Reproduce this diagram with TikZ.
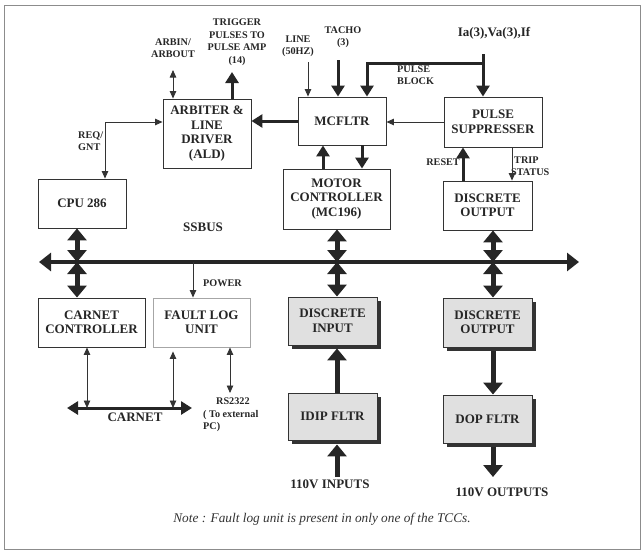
\documentclass[tikz,border=0pt]{standalone}
\usepackage{fontspec}
\setmainfont{Liberation Serif}
\usetikzlibrary{arrows.meta,shadows,calc}
\newcommand\bxfont{\fontsize{13}{14.5}\selectfont\bfseries}
\newcommand\smfont{\fontsize{10.2}{12.5}\selectfont\bfseries}
\begin{document}
\begin{tikzpicture}[x=1pt,y=-1pt,
  box/.style={draw=black!80, line width=0.9pt, inner sep=0pt, align=center, font=\bxfont, text=black!85, fill=white},
  shbox/.style={box, fill=black!12, drop shadow={shadow xshift=4pt, shadow yshift=-4pt, fill=black!80, opacity=1}},
  lbl/.style={inner sep=0pt, align=center, font=\smfont, text=black!85},
  biglbl/.style={inner sep=0pt, align=center, font=\bxfont, text=black!85},
  thinarr/.style={draw=black!80, line width=0.8pt, -{Triangle[width=6.5pt,length=7.5pt]}},
  midarr/.style={draw=black!85, line width=3pt, -{Triangle[width=13pt,length=11pt]}},
  bigarr/.style={draw=black!85, line width=5pt, -{Triangle[width=19pt,length=12pt]}},
  busline/.style={draw=black!85, line width=4.5pt, {Triangle[width=18pt,length=12pt]}-{Triangle[width=18pt,length=12pt]}}
]
\useasboundingbox (0,0) rectangle (643,552);
\draw[black!45, line width=1pt] (4,5) rectangle (640,549);

% boxes
\node[box, minimum width=88pt, minimum height=69pt] (ald) at (207,133.5) {ARBITER \&\\LINE\\DRIVER\\(ALD)};
\node[box, minimum width=88pt, minimum height=49pt] (cpu) at (82,203.5) {CPU 286};
\node[box, minimum width=88pt, minimum height=48pt] (mcf) at (342,121) {MCFLTR};
\node[box, minimum width=98pt, minimum height=50pt] (ps) at (493,122) {PULSE\\SUPPRESSER};
\node[box, minimum width=107pt, minimum height=60pt] (mc) at (336.5,199) {MOTOR\\CONTROLLER\\(MC196)};
\node[box, minimum width=89pt, minimum height=49pt] (dot) at (487.5,205.5) {DISCRETE\\OUTPUT};
\node[box, minimum width=107pt, minimum height=49pt] (cc) at (91.5,322.5) {CARNET\\CONTROLLER};
\node[box, draw=black!35, minimum width=97pt, minimum height=49pt] (flu) at (201.5,322.5) {FAULT LOG\\UNIT};
\node[shbox, minimum width=89pt, minimum height=48pt] (di) at (332.5,321) {DISCRETE\\INPUT};
\node[shbox, minimum width=89pt, minimum height=47pt] (idip) at (332.5,416.5) {IDIP FLTR};
\node[shbox, minimum width=89pt, minimum height=49pt] (dol) at (487.5,322.5) {DISCRETE\\OUTPUT};
\node[shbox, minimum width=89pt, minimum height=48pt] (dop) at (487.5,419) {DOP FLTR};

% labels
\node[lbl] (arbl) at (173,48) {ARBIN/\\ARBOUT};
\node[lbl] (trgl) at (237,42) {TRIGGER\\PULSES TO\\PULSE AMP\\(14)};
\node[lbl] (linel) at (298,46) {LINE\\(50HZ)};
\node[lbl] (tachl) at (343,37) {TACHO\\(3)};
\node[biglbl] (ial) at (494,33) {Ia(3),Va(3),If};
\node[lbl, anchor=west, align=left] (pbl) at (397,75) {PULSE\\BLOCK};
\node[lbl, anchor=west, align=left] (rql) at (78,141) {REQ/\\GNT};
\node[biglbl] (ssl) at (203,227) {SSBUS};
\node[lbl, anchor=east] (rstl) at (460,162) {RESET};
\node[lbl, anchor=west, align=left] (tripl) at (511,166) {\hspace*{3pt}TRIP\\STATUS};
\node[lbl, anchor=west] (pwl) at (203,283) {POWER};
\node[biglbl] (cnl) at (135,417) {CARNET};
\node[lbl, anchor=north west, align=left] (rsl) at (203,398) {\hspace*{13pt}RS2322\\( To external\\PC)};
\node[biglbl] (inl) at (330,484) {110V INPUTS};
\node[biglbl] (outl) at (502,492) {110V OUTPUTS};
\node[inner sep=0pt, font=\fontsize{13.3}{15}\selectfont\itshape, text=black!80] (note) at (322,519) {Note : Fault log unit is present in only one of the TCCs.};

% bus
\coordinate (busL) at (39,262);
\coordinate (busR) at (579,262);
\draw[busline] (busL) -- (busR);
\coordinate (t1) at (77,262);
\coordinate (t2) at (337,262);
\coordinate (t3) at (493,262);
\draw[bigarr, {Triangle[width=19pt,length=12pt]}-{Triangle[width=19pt,length=12pt]}] (cpu.south -| t1) -- (t1);
\draw[bigarr, {Triangle[width=19pt,length=12pt]}-{Triangle[width=19pt,length=12pt]}] (t1) -- (cc.north -| t1);
\draw[bigarr, {Triangle[width=19pt,length=12pt]}-{Triangle[width=19pt,length=12pt]}] (mc.south -| t2) -- (t2);
\draw[bigarr, {Triangle[width=19pt,length=12pt]}-{Triangle[width=19pt,length=12pt]}] (t2) -- (di.north -| t2);
\draw[bigarr, {Triangle[width=19pt,length=12pt]}-{Triangle[width=19pt,length=12pt]}] (dot.south -| t3) -- (t3);
\draw[bigarr, {Triangle[width=19pt,length=12pt]}-{Triangle[width=19pt,length=12pt]}] (t3) -- (dol.north -| t3);

% top inputs
\coordinate (arb) at (173,70);
\draw[thinarr, {Triangle[width=6.5pt,length=7.5pt]}-{Triangle[width=6.5pt,length=7.5pt]}] (arb) -- (arb |- ald.north);
\coordinate (trg) at (232,72);
\draw[midarr] (trg |- ald.north) -- (trg);
\coordinate (lin) at (308,62);
\draw[thinarr] (lin) -- (lin |- mcf.north);
\coordinate (tac) at (338,60);
\draw[midarr] (tac) -- (tac |- mcf.north);
\coordinate (ia) at (483,54);
\coordinate (pbc) at (483,63);
\coordinate (pbk) at (367,63);
\draw[midarr] (ia) -- (ia |- ps.north);
\draw[midarr, line join=miter] (pbc) -- (pbk) -- (pbk |- mcf.north);

% horizontal links
\draw[midarr] (mcf.west) -- (mcf.west -| ald.east);
\draw[thinarr] (ps.west) -- (ps.west -| mcf.east);
\coordinate (rq) at (105,122);
\draw[thinarr, {Triangle[width=6.5pt,length=7.5pt]}-{Triangle[width=6.5pt,length=7.5pt]}] (cpu.north -| rq) -- (rq) -- (rq -| ald.west);

% MC <-> MCFLTR
\coordinate (m1) at (323,150);
\coordinate (m2) at (362,150);
\draw[midarr] (mc.north -| m1) -- (mcf.south -| m1);
\draw[midarr] (mcf.south -| m2) -- (mc.north -| m2);

% PS <-> DO
\coordinate (r1) at (463,160);
\coordinate (r2) at (512,160);
\draw[midarr] (dot.north -| r1) -- (ps.south -| r1);
\draw[thinarr] (ps.south -| r2) -- (dot.north -| r2);

% power
\coordinate (pw) at (193,262);
\draw[thinarr] (pw) -- (pw |- flu.north);

% carnet
\coordinate (cnL) at (67,408);
\coordinate (cnR) at (192,408);
\draw[draw=black!85, line width=3pt, {Triangle[width=13pt,length=11pt]}-{Triangle[width=13pt,length=11pt]}] (cnL) -- (cnR);
\coordinate (c1) at (87,408);
\coordinate (c2) at (173,408);
\coordinate (rs) at (230,393);
\draw[thinarr, {Triangle[width=6.5pt,length=7.5pt]}-{Triangle[width=6.5pt,length=7.5pt]}] (cc.south -| c1) -- (c1);
\draw[thinarr, shorten <=4pt, {Triangle[width=6.5pt,length=7.5pt]}-{Triangle[width=6.5pt,length=7.5pt]}] (flu.south -| c2) -- (c2);
\draw[thinarr, {Triangle[width=6.5pt,length=7.5pt]}-{Triangle[width=6.5pt,length=7.5pt]}] (flu.south -| rs) -- (rs);

% lower flows
\coordinate (inp) at (337,477);
\draw[bigarr] (inp) -- ($(idip.south -| inp)+(0,4)$);
\draw[bigarr] (idip.north -| inp) -- ($(di.south -| inp)+(0,3)$);
\coordinate (outp) at (493,477);
\draw[bigarr] ($(dol.south -| t3)+(0,4)$) -- (dop.north -| t3);
\draw[bigarr] ($(dop.south -| t3)+(0,4)$) -- (outp);
\end{tikzpicture}
\end{document}
